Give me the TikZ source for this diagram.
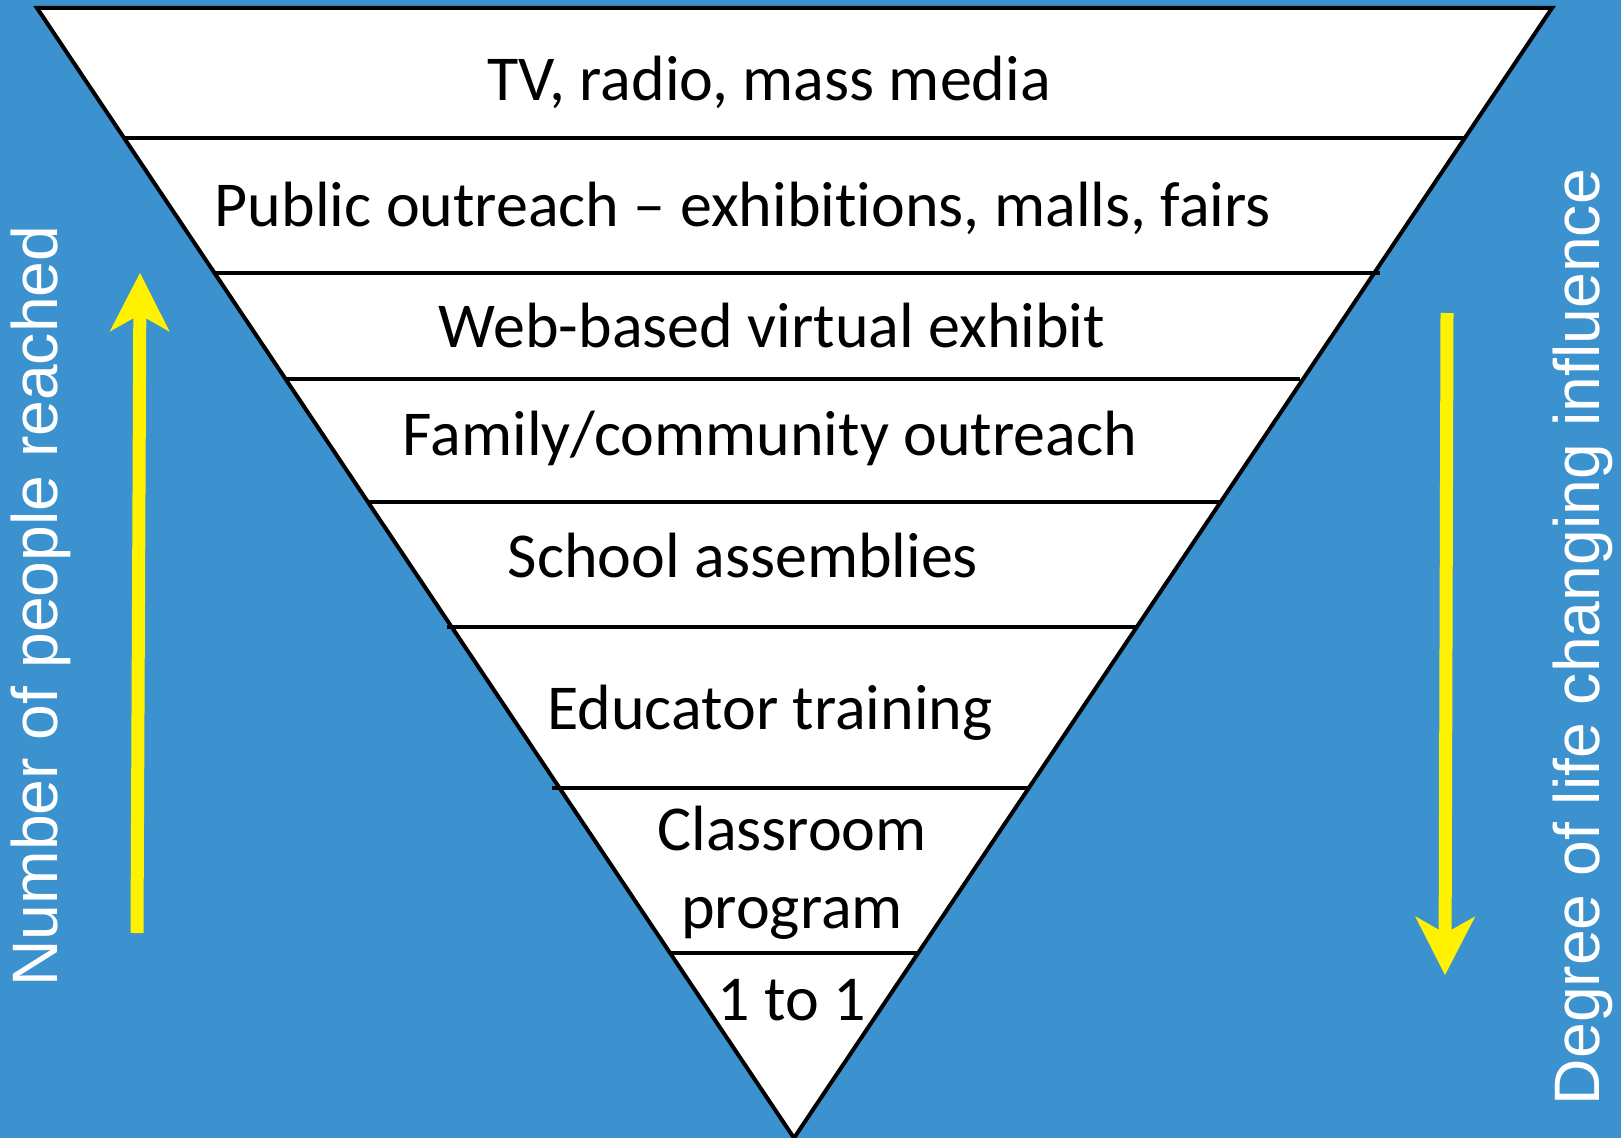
\documentclass[tikz,border=0pt]{standalone}
\usepackage{fontspec}
\setmainfont{Carlito}[Ligatures=NoCommon]
\newfontfamily\sidefont{Liberation Sans}
\usetikzlibrary{arrows.meta}
\definecolor{bgblue}{RGB}{60,145,207}
\tikzset{every picture/.style={line width=0.75pt}}

\begin{document}
\begin{tikzpicture}[x=0.75pt,y=0.75pt,yscale=-1,xscale=1,
  layer/.style={anchor=base,inner sep=0.75pt,align=center,font=\fontsize{48}{58}\selectfont},
  side/.style={anchor=center,inner sep=0.75pt,rotate=90,text=white,font=\sidefont\fontsize{48.2}{56}\selectfont},
  rung/.style={line width=3pt},
  yarrow/.style={draw=yellow,line width=9.75pt,-{Stealth[length=44pt,width=45pt,inset=12.75pt,line width=0.75pt,fill=yellow]}}]
\useasboundingbox (0,0) rectangle (1621,1138);

%Shape: Rectangle [background]
\fill [bgblue] (0,0) rectangle (1621,1138);
%Shape: Triangle [funnel]
\draw [fill=white,line width=3pt,line join=miter] (37,8) -- (1552,8) -- (794,1138) -- cycle ;
%Straight Lines [rungs]
\draw [rung] (124,138) -- (1465,138) ;
\draw [rung] (214,273) -- (1380,273) ;
\draw [rung] (286,379) -- (1300,379) ;
\draw [rung] (368,502) -- (1220,502) ;
\draw [rung] (447,627) -- (1137,627) ;
\draw [rung] (552,788) -- (1030,788) ;
\draw [rung] (670,953) -- (918,953) ;

%Arrows
\coordinate (upfoot) at (137,933);
\coordinate (uptip) at (140,273);
\draw [yarrow] (upfoot) -- (uptip) ;
\coordinate (downfoot) at (1447,313);
\coordinate (downtip) at (1445,975);
\draw [yarrow] (downfoot) -- (downtip) ;

% Text Node
\draw (769,101) node [layer] (tv) {TV, radio, mass media};
% Text Node
\draw (743,226) node [layer] (pub) {Public outreach -- exhibitions, malls, fairs};
% Text Node
\draw (772,347) node [layer] (web) {Web-based virtual exhibit};
% Text Node
\draw (770,455) node [layer] (fam) {Family/community outreach};
% Text Node
\draw (743,577) node [layer] (sch) {School assemblies};
% Text Node
\draw (770,729) node [layer] (edu) {Educator training};
% Text Node
\draw (792,928) node [layer] (cls) {Classroom\\program};
% Text Node
\draw (792,1020) node [layer] (one) {1 to 1};
% Text Node
\draw (41,606) node [side] (reach) {Number of people reached};
% Text Node
\draw (1583,637) node [side] (infl) {Degree of life changing influence};

\end{tikzpicture}
\end{document}
